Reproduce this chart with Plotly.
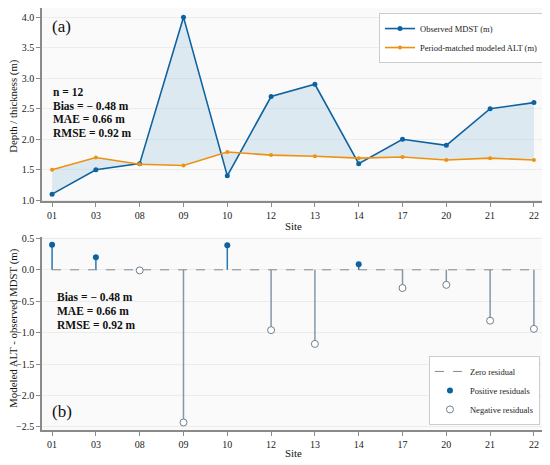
import plotly.graph_objects as go
from plotly.subplots import make_subplots

sites = ["01", "03", "08", "09", "10", "12", "13", "14", "17", "20", "21", "22"]
observed = [1.1, 1.5, 1.6, 4.0, 1.4, 2.7, 2.9, 1.6, 2.0, 1.9, 2.5, 2.6]
modeled = [1.5, 1.7, 1.59, 1.57, 1.79, 1.74, 1.72, 1.69, 1.71, 1.66, 1.69, 1.66]
residual = [0.4, 0.2, -0.01, -2.43, 0.39, -0.96, -1.18, 0.09, -0.29, -0.24, -0.81, -0.94]

stats_a = ["n = 12", "Bias = \u2212 0.48 m", "MAE = 0.66 m", "RMSE = 0.92 m"]
stats_b = stats_a[1:]

blue = "#0f62a0"
orange = "#f0900f"
stem_pos = "#2878b0"
stem_neg = "#8497a8"
font = "Times New Roman"

fig = make_subplots(rows=2, cols=1, vertical_spacing=0.083)

# panel a: fill between the two series
fig.add_trace(go.Scatter(x=sites, y=modeled, mode="lines", line=dict(width=0),
                         showlegend=False, hoverinfo="skip"), row=1, col=1)
fig.add_trace(go.Scatter(x=sites, y=observed, mode="lines", line=dict(width=0),
                         fill="tonexty", fillcolor="rgba(160,200,222,0.32)",
                         showlegend=False, hoverinfo="skip"), row=1, col=1)
fig.add_trace(go.Scatter(x=sites, y=observed, mode="lines+markers", name="Observed MDST (m)",
                         line=dict(color=blue, width=1.6), marker=dict(size=5, color=blue),
                         legend="legend"), row=1, col=1)
fig.add_trace(go.Scatter(x=sites, y=modeled, mode="lines+markers", name="Period-matched modeled ALT (m)",
                         line=dict(color=orange, width=1.6), marker=dict(size=4, color=orange),
                         legend="legend"), row=1, col=1)

# panel b: stems
pos = [(s, r) for s, r in zip(sites, residual) if r > 0]
neg = [(s, r) for s, r in zip(sites, residual) if r <= 0]

def stems(pts):
    xs, ys = [], []
    for s, r in pts:
        xs += [s, s, None]
        ys += [0, r, None]
    return xs, ys

px_, py_ = stems(pos)
nx_, ny_ = stems(neg)
fig.add_trace(go.Scatter(x=nx_, y=ny_, mode="lines", line=dict(color=stem_neg, width=1.5),
                         showlegend=False, hoverinfo="skip"), row=2, col=1)
fig.add_trace(go.Scatter(x=px_, y=py_, mode="lines", line=dict(color=stem_pos, width=1.5),
                         showlegend=False, hoverinfo="skip"), row=2, col=1)
fig.add_trace(go.Scatter(x=sites, y=[0] * len(sites), mode="lines", name="Zero residual",
                         line=dict(color="#888888", width=1, dash="dash"),
                         legend="legend2"), row=2, col=1)
fig.add_trace(go.Scatter(x=[p[0] for p in pos], y=[p[1] for p in pos], mode="markers",
                         name="Positive residuals", marker=dict(size=6, color=blue),
                         legend="legend2"), row=2, col=1)
fig.add_trace(go.Scatter(x=[p[0] for p in neg], y=[p[1] for p in neg], mode="markers",
                         name="Negative residuals",
                         marker=dict(size=7, color="white", line=dict(color="#6f7f8d", width=1)),
                         legend="legend2"), row=2, col=1)

axis_common = dict(showline=True, linecolor="#8a8a8a", linewidth=1.5, ticks="outside",
                   ticklen=4, tickcolor="#8a8a8a", tickfont=dict(family=font, size=10, color="#222"),
                   zeroline=False, automargin=False)
fig.update_xaxes(type="category", categoryorder="array", categoryarray=sites,
                 range=[-0.23, 11.23], showgrid=False, **axis_common)
fig.update_yaxes(showgrid=True, gridcolor="#ececec", gridwidth=1, **axis_common)
fig.update_yaxes(range=[0.98, 4.15], dtick=0.5, tickformat=".1f", row=1, col=1)
fig.update_yaxes(range=[-2.55, 0.53], dtick=0.5, tickformat=".1f", row=2, col=1)


def note(text, x, y, size, anchor="left", angle=0):
    return dict(text=text, xref="paper", yref="paper", x=x, y=y, xanchor=anchor,
                yanchor="middle", showarrow=False, textangle=angle,
                font=dict(family=font, size=size, color="#111"))


annotations = [
    note("Depth / thickness (m)", -0.056, 0.768, 10.8, "center", -90),
    note("Modeled ALT - observed MDST (m)", -0.056, 0.242, 10.8, "center", -90),
    note("Site", 0.5, 0.483, 10.8, "center"),
    note("Site", 0.5, -0.054, 10.8, "center"),
    note("(a)", 0.015, 0.957, 17),
    note("(b)", 0.015, 0.043, 17),
]
for s, y in zip(stats_a, [0.801, 0.768, 0.737, 0.704]):
    annotations.append(note("<b>%s</b>" % s, 0.018, y, 11.5))
for s, y in zip(stats_b, [0.315, 0.282, 0.249]):
    annotations.append(note("<b>%s</b>" % s, 0.026, y, 11.5))

# the page body adds 8px around the figure, so size and margins allow for it
fig.update_layout(
    width=542, height=457,
    margin=dict(l=34, r=6, t=0, b=35),
    paper_bgcolor="white", plot_bgcolor="#fafafa",
    font=dict(family=font, size=10, color="#222"),
    annotations=annotations,
    legend=dict(x=1.0, y=0.988, xanchor="right", yanchor="top", bgcolor="white",
                bordercolor="#cccccc", borderwidth=1, font=dict(family=font, size=8.5),
                traceorder="normal", tracegroupgap=0, itemwidth=30),
    legend2=dict(x=0.992, y=0.012, xanchor="right", yanchor="bottom", bgcolor="white",
                 bordercolor="#cccccc", borderwidth=1, font=dict(family=font, size=8.5),
                 traceorder="normal", tracegroupgap=0, itemwidth=30),
)

fig.write_html("out.html")
